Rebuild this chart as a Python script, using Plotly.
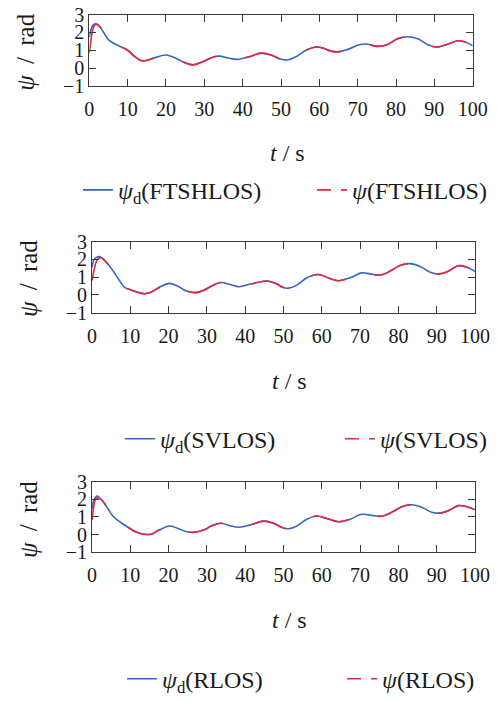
import plotly.graph_objects as go

# Time samples and heading angles (rad) for the three guidance laws
t_fts = [0, 0.5, 1.0, 1.7, 2.5, 3.5, 5.2, 7.8, 10, 11.7, 13.5, 14.8, 17.4, 20, 22.6, 24.8, 27,
         29.6, 32.6, 33.9, 36.5, 38.7, 41.7, 44.8, 47.4, 50, 51.5, 53.9, 56.5, 59.1, 60.9, 62.6,
         64.8, 67.4, 70.4, 72.2, 75.2, 77.8, 80.4, 83, 85.7, 88.3, 90.5, 93.1, 96.2, 98.8, 100]
psi_d_fts = [1.73, 2.2, 2.42, 2.49, 2.38, 2.09, 1.55, 1.24, 1.0, 0.67, 0.42, 0.42, 0.6, 0.73, 0.55,
             0.31, 0.18, 0.36, 0.64, 0.67, 0.55, 0.49, 0.64, 0.84, 0.73, 0.49, 0.45, 0.64, 1.0, 1.18,
             1.13, 0.98, 0.91, 1.05, 1.31, 1.35, 1.22, 1.33, 1.64, 1.76, 1.64, 1.31, 1.18, 1.31, 1.53,
             1.4, 1.24]
t_fts_start = [0, 0.4, 0.8, 1.2, 1.7]
psi_fts_start = [0.85, 1.5, 2.05, 2.35, 2.45]

t_sv = [0, 0.6, 1.7, 2.6, 3.7, 5.5, 7.2, 8.5, 10.2, 11.9, 13.7, 15.4, 17.6, 20.2, 22.3, 24.5, 27.1,
        29.3, 31.4, 33.6, 36.2, 38.4, 41.4, 45.7, 48.3, 49.6, 51.3, 53.5, 56.1, 59.1, 61.7, 64.3,
        67.4, 70.4, 72.6, 75.2, 77.8, 80.4, 83, 85.7, 88.3, 90.4, 92.6, 95.7, 97.8, 100]
psi_d_sv = [1.54, 2.0, 2.15, 2.08, 1.85, 1.35, 0.8, 0.43, 0.28, 0.15, 0.07, 0.15, 0.43, 0.65, 0.5,
            0.24, 0.13, 0.28, 0.52, 0.7, 0.57, 0.46, 0.61, 0.78, 0.61, 0.45, 0.38, 0.55, 0.96, 1.15,
            0.96, 0.8, 0.96, 1.24, 1.18, 1.11, 1.33, 1.65, 1.76, 1.6, 1.27, 1.18, 1.29, 1.64, 1.56,
            1.33]
t_sv_start = [0, 0.5, 1.0, 1.6, 2.3]
psi_sv_start = [0.8, 1.35, 1.8, 2.02, 2.09]

t_r = [0, 0.5, 1.3, 2.0, 2.9, 4.2, 5.5, 7.6, 9.8, 11.5, 13.7, 15.4, 17.6, 20.2, 22.3, 24.5, 26.7,
       29.3, 31.4, 33.6, 36.2, 38.4, 41.4, 44.8, 47.4, 49.6, 51.3, 53.5, 56.1, 58.7, 61.3, 64.3,
       67.4, 70.4, 73, 75.7, 78.3, 80.9, 83.5, 86.1, 88.7, 90.9, 93.5, 95.7, 97.8, 100]
psi_d_r = [1.45, 1.95, 2.18, 2.08, 1.87, 1.45, 1.04, 0.67, 0.36, 0.15, 0.02, 0.02, 0.27, 0.49, 0.36,
           0.18, 0.13, 0.27, 0.51, 0.64, 0.49, 0.42, 0.55, 0.76, 0.64, 0.4, 0.33, 0.49, 0.87, 1.05,
           0.91, 0.73, 0.87, 1.15, 1.09, 1.04, 1.27, 1.58, 1.69, 1.55, 1.27, 1.22, 1.4, 1.64, 1.58,
           1.42]
t_r_start = [0, 0.4, 0.9, 1.4, 2.1]
psi_r_start = [0.82, 1.5, 2.0, 2.08, 2.02]

methods = ["FTSHLOS", "SVLOS", "RLOS"]
x_ticks = [0, 10, 20, 30, 40, 50, 60, 70, 80, 90, 100]
y_ticks = [-1, 0, 1, 2, 3]

# after the initial transient the actual heading follows the desired one
panels = [
    (t_fts, psi_d_fts, t_fts_start + t_fts[4:], psi_fts_start + psi_d_fts[4:]),
    (t_sv, psi_d_sv, t_sv_start + t_sv[4:], psi_sv_start + psi_d_sv[4:]),
    (t_r, psi_d_r, t_r_start + t_r[4:], psi_r_start + psi_d_r[4:]),
]

W, H = 497, 702
BLUE = "#3566c2"
RED = "#e5283a"
AX = "#3a3a3a"
FONT = "Liberation Serif"
TXT = "#1a1a1a"
NB = "\u00a0"
THIN = "\u2009"

# plot-area rectangles in pixels: (left, right, top, bottom)
boxes = [(89.3, 472.7, 15, 88), (92, 475, 247.5, 320.5), (92, 475, 493.5, 566)]
# axis-title centres in pixels: (x-title x, x-title y, y-title x, y-title y)
titles = [(287, 157, 26, 54), (289, 390, 28, 286), (289, 635, 28, 533)]
# legend rows: (y centre, text start of desired, text start of actual)
leg_rows = [(195, 118, 352), (450, 160, 380), (696, 162, 382)]

fig = go.Figure()
for i, ((t, pd_, ta, pa), name) in enumerate(zip(panels, methods)):
    sfx = "" if i == 0 else str(i + 1)
    la, lb = "legend" + ("" if i == 0 else str(2 * i + 1)), "legend" + str(2 * i + 2)
    fig.add_trace(go.Scatter(
        x=t, y=pd_, mode="lines", line=dict(color=BLUE, width=1.6, shape="spline"),
        name="<i>ψ</i><sub>d</sub>(" + name + ")", xaxis="x" + sfx, yaxis="y" + sfx,
        legend=la))
    fig.add_trace(go.Scatter(
        x=ta, y=pa, mode="lines", line=dict(color=RED, width=1.6, shape="spline", dash="36px,30px"),
        showlegend=False, xaxis="x" + sfx, yaxis="y" + sfx))
    # legend key for the dashed series
    fig.add_trace(go.Scatter(
        x=[None], y=[None], mode="lines", line=dict(color=RED, width=1.6, dash="14px,10px"),
        name="<i>ψ</i>(" + name + ")", xaxis="x" + sfx, yaxis="y" + sfx, legend=lb))

layout = dict(
    width=W, height=H, margin=dict(l=0, r=0, t=0, b=0),
    paper_bgcolor="white", plot_bgcolor="white",
    font=dict(family=FONT, size=20, color=TXT),
)
annotations = []
for i, ((l, r, tp, bt), (xtx, xty, ytx, yty)) in enumerate(zip(boxes, titles)):
    sfx = "" if i == 0 else str(i + 1)
    common = dict(showline=True, linecolor=AX, linewidth=1, mirror="ticks", ticks="inside",
                  ticklen=7, tickwidth=1, tickcolor=AX, showgrid=False, zeroline=False,
                  automargin=False,
                  tickfont=dict(family=FONT, size=20, color=TXT))
    layout["xaxis" + sfx] = dict(
        domain=[l / W, r / W], range=[0, 100], tickvals=x_ticks, anchor="y" + sfx,
        ticklabelstandoff=5, **common)
    layout["yaxis" + sfx] = dict(
        domain=[1 - bt / H, 1 - tp / H], range=[-1, 3], tickvals=y_ticks, anchor="x" + sfx,
        **common)
    annotations.append(dict(
        text="<i>t</i>" + NB + "/" + NB + "s", x=xtx / W, y=1 - xty / H, xref="paper",
        yref="paper", xanchor="center", yanchor="middle", showarrow=False,
        font=dict(family=FONT, size=24, color=TXT)))
    annotations.append(dict(
        text="<i>ψ</i>" + NB + THIN + "/" + NB + THIN + "rad", x=ytx / W, y=1 - yty / H,
        xref="paper", yref="paper", xanchor="center", yanchor="middle", textangle=-90,
        showarrow=False, font=dict(family=FONT, size=25, color=TXT)))
layout["annotations"] = annotations

for i, (yc, xa, xb) in enumerate(leg_rows):
    for j, xs in enumerate((xa, xb)):
        k = 2 * i + j + 1
        key = "legend" if k == 1 else "legend" + str(k)
        layout[key] = dict(x=(xs - 40) / W, xanchor="left", y=1 - yc / H, yanchor="middle",
                           orientation="h", bgcolor="rgba(0,0,0,0)", borderwidth=0,
                           font=dict(family=FONT, size=24, color=TXT))

fig.update_layout(**layout)
fig.write_html("out.html")
